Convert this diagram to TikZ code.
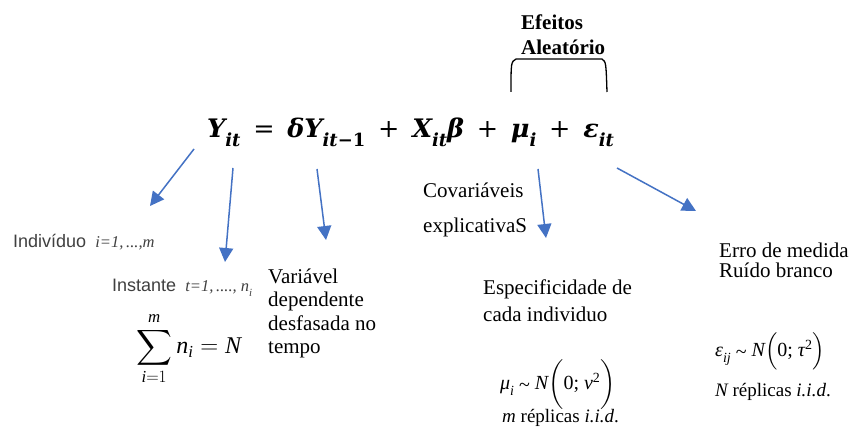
\documentclass[tikz,border=0pt]{standalone}
\usepackage{amsmath}
\usepackage{graphicx}
\usepackage{fontspec}
\setmainfont{Liberation Serif}
\setsansfont{Liberation Sans}
\newfontfamily\eqfont{DejaVu Serif}
\usetikzlibrary{arrows.meta}
\definecolor{arrblue}{HTML}{4472C4}
\definecolor{sansgray}{HTML}{404040}
\newcommand\fs[1]{\fontsize{#1}{#1}\selectfont}
\newcommand\eqsb[1]{\raisebox{-0.34em}{\fontsize{18}{18}\selectfont #1}}
\newcommand\eqop[1]{\hspace{0.5em}{\upshape\mdseries #1}\hspace{0.5em}}
\newcommand\smsb[1]{\raisebox{-0.28em}{\fontsize{14}{14}\selectfont\itshape #1}}
\newcommand\tld{\raisebox{-0.2ex}{\textasciitilde}}
\begin{document}
\begin{tikzpicture}[x=1pt,y=-1pt,
  lbl/.style={anchor=base west, inner sep=0pt, font=\fs{21}},
  sanslbl/.style={anchor=base west, inner sep=0pt, font=\sffamily\fs{18}, text=sansgray},
  arr/.style={draw=arrblue, line width=1.5pt, -{Triangle[length=14pt,width=14pt]}}]
\useasboundingbox[fill=white] (0,0) rectangle (852,430);

% Random effects label and bracket
\node[lbl, font=\fs{21}\bfseries] (ef1) at (521,30) {Efeitos};
\node[lbl, font=\fs{21}\bfseries] (ef2) at (521,55) {Aleatório};
\coordinate (bl) at (511,92);
\coordinate (br) at (607,92);
\draw[line width=1.3pt] (bl) .. controls (511,62) .. (516,59) -- (602,59) .. controls (606,62) .. (br);

% Main equation
\node[anchor=base west, inner sep=0pt, font=\eqfont\fs{25.5}\bfseries\itshape] (eq) at (207,138)
  {Y\eqsb{it}\eqop{=}δY\eqsb{it{\upshape −1}}\eqop{+}X\eqsb{it}β\eqop{+}μ\eqsb{i}\eqop{+}ε\eqsb{it}};

% arrow anchors
\coordinate (a1s) at (194,149); \coordinate (a1e) at (150,206);
\coordinate (a2s) at (233,168); \coordinate (a2e) at (225,262);
\coordinate (a3s) at (317,169); \coordinate (a3e) at (326,240);
\coordinate (a4s) at (538,169); \coordinate (a4e) at (546,238);
\coordinate (a5s) at (617,168); \coordinate (a5e) at (696,211);
\draw[arr] (a1s) -- (a1e);
\draw[arr] (a2s) -- (a2e);
\draw[arr] (a3s) -- (a3e);
\draw[arr] (a4s) -- (a4e);
\draw[arr] (a5s) -- (a5e);

% Left labels
\node[sanslbl] (ind) at (13,248)
  {Indivíduo {\rmfamily\itshape\fs{16.5} i=1,\,...,m}};
\node[sanslbl] (inst) at (112,292)
  {Instante {\rmfamily\itshape\fs{16.5} t=1,\,...., n\smsb{\fs{11}i}}};
\node[anchor=base west, inner sep=0pt, font=\fs{24}] (sum) at (136,354)
  {$\displaystyle\sum_{\textit{i}=1}^{\textit{m}}\textit{n}_{\textit{i}}=\textit{N}$};

\node[lbl] (var1) at (268,284) {Variável};
\node[lbl] (var2) at (268,307) {dependente};
\node[lbl] (var3) at (268,331) {desfasada no};
\node[lbl] (var4) at (268,354) {tempo};

% Middle labels
\node[lbl] (cov1) at (423,198) {Covariáveis};
\node[lbl] (cov2) at (423,233) {explicativaS};
\node[lbl] (esp1) at (483,295) {Especificidade de};
\node[lbl] (esp2) at (483,322) {cada individuo};
\node[lbl, font=\fs{20}] (mu) at (500,390)
  {{\itshape μ}\smsb{i} \tld{} {\itshape N}$\biggl($0; {\itshape ν}\textsuperscript{2}$\biggr)$};
\node[lbl, font=\fs{19}] (mrep) at (502,422) {{\itshape m} réplicas {\itshape i.i.d}.};

% Right labels
\node[lbl] (erro1) at (719,258) {Erro de medida};
\node[lbl] (erro2) at (719,278) {Ruído branco};
\node[lbl, font=\fs{20}] (eps) at (715,357)
  {{\itshape ε}\smsb{ij} \tld{} {\itshape N}$\Bigl($0; {\itshape τ}\textsuperscript{2}$\Bigr)$};
\node[lbl, font=\fs{19}] (nrep) at (715,397) {{\itshape N} réplicas {\itshape i.i.d}.};
\end{tikzpicture}
\end{document}
